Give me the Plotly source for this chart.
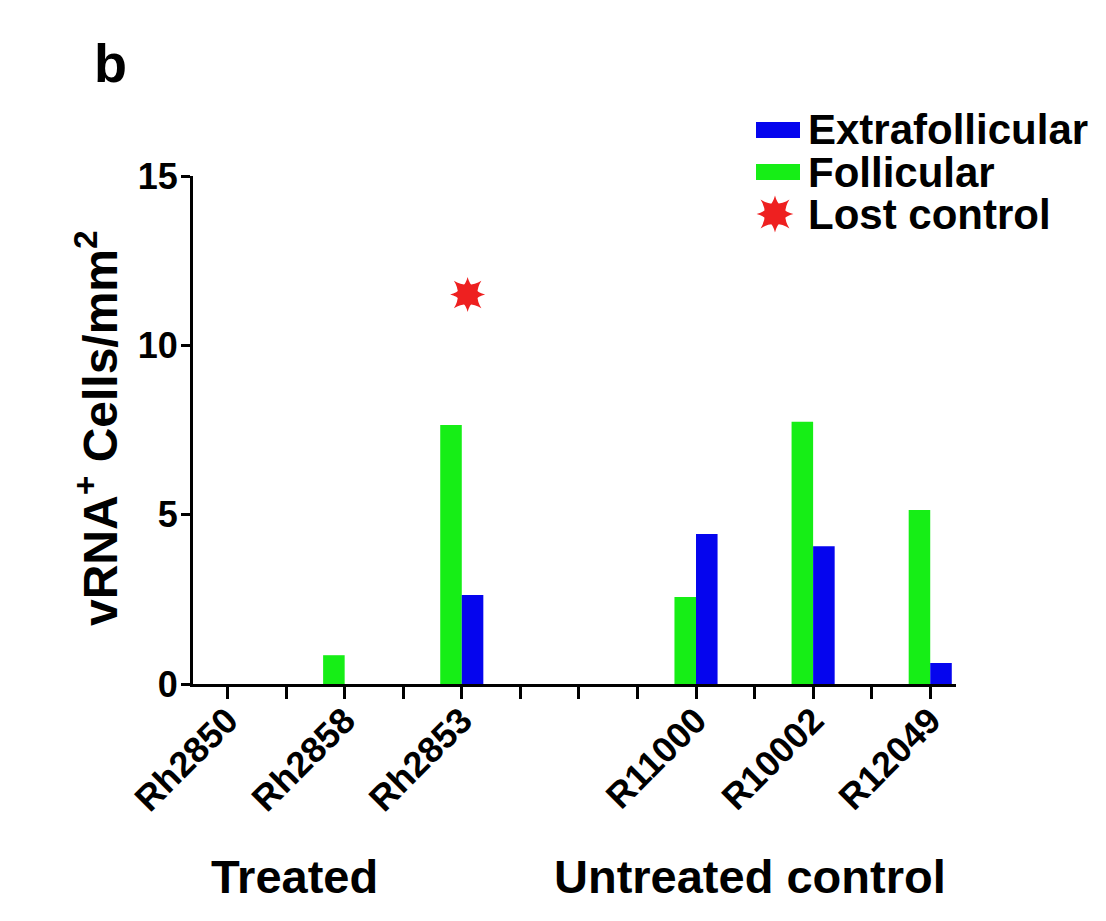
import plotly.graph_objects as go

# ---------------- data ----------------
treated = ["Rh2850", "Rh2858", "Rh2853"]
untreated = ["R11000", "R10002", "R12049"]
group_names = ["Treated", "Untreated control"]
follicular = [0.0, 0.85, 7.65, 2.57, 7.74, 5.14]
extrafollicular = [0.0, 0.0, 2.63, 4.43, 4.07, 0.62]
lost_control_animal = ["Rh2853"]
lost_control_value = [11.5]
y_ticks = [0, 5, 10, 15]

# ---------------- layout helpers ----------------
OFF = 8  # page body margin
W, H = 1106 - 2 * OFF, 921 - 2 * OFF
PL, PR, PT, PB = 193, 956, 176, 684  # plot area in reference pixels
FONT = "Liberation Sans, Arial, Helvetica, sans-serif"
BLUE = "#0505EE"
GREEN = "#16EE16"
RED = "#EE2020"

categories = treated + untreated
positions = [i for i in range(len(treated))] + [len(treated) + 1 + i for i in range(len(untreated))]
pos_of = dict(zip(categories, positions))
XMIN, XMAX = -0.295, 6.22
YMIN, YMAX = 0, 15
BW = 0.184


def px_to_x(px):
    return XMIN + (px - PL) / (PR - PL) * (XMAX - XMIN)


def py_to_y(py):
    return YMIN + (PB - py) / (PB - PT) * (YMAX - YMIN)


def px_to_paper(px):
    return (px - PL) / (PR - PL)


def py_to_paper(py):
    return (PB - py) / (PB - PT)


def star(fig, x, y, color, scale=1.0):
    for sym, s in [("circle", 17), ("star-square", 25), ("star-diamond", 25)]:
        fig.add_trace(go.Scatter(
            x=x, y=y, mode="markers", name="Lost control",
            marker=dict(symbol=sym, size=s * scale, color=color, line=dict(width=0)),
            showlegend=False, cliponaxis=False,
        ))


fig = go.Figure()

fig.add_trace(go.Bar(
    x=positions, y=follicular, name="Follicular",
    marker=dict(color=GREEN, line=dict(width=0)),
    width=BW, offset=-BW, showlegend=False,
))
fig.add_trace(go.Bar(
    x=positions, y=extrafollicular, name="Extrafollicular",
    marker=dict(color=BLUE, line=dict(width=0)),
    width=BW, offset=0, showlegend=False,
))

star_x = [pos_of[a] + 0.05 for a in lost_control_animal]
star(fig, star_x, lost_control_value, RED)

# ---------------- manual legend ----------------
legend_rows = [("Extrafollicular", BLUE, 130), ("Follicular", GREEN, 172), ("Lost control", RED, 214)]
shapes = []
annotations = []
for name, color, py in legend_rows:
    if name != "Lost control":
        shapes.append(dict(type="rect", xref="paper", yref="paper",
                           x0=px_to_paper(756), x1=px_to_paper(800),
                           y0=py_to_paper(py + 8), y1=py_to_paper(py - 8),
                           fillcolor=color, line=dict(width=0), layer="above"))
    else:
        star(fig, [px_to_x(775)], [py_to_y(py)], color, scale=1.05)
    annotations.append(dict(text=name, xref="paper", yref="paper",
                            x=px_to_paper(806), y=py_to_paper(py),
                            xanchor="left", yanchor="middle", showarrow=False,
                            font=dict(family=FONT, size=42, color="black", weight="bold")))

# group labels
for gname, cx in zip(group_names, [294, 750]):
    annotations.append(dict(text=gname, xref="paper", yref="paper",
                            x=px_to_paper(cx), y=py_to_paper(876),
                            xanchor="center", yanchor="middle", showarrow=False,
                            font=dict(family=FONT, size=47, color="black", weight="bold")))

# panel letter
annotations.append(dict(text="b", xref="paper", yref="paper",
                        x=px_to_paper(92), y=py_to_paper(63),
                        xanchor="left", yanchor="middle", showarrow=False,
                        font=dict(family=FONT, size=54, color="black", weight="bold")))

# y axis title
annotations.append(dict(text="vRNA<sup>+</sup> Cells/mm<sup>2</sup>", xref="paper", yref="paper",
                        x=px_to_paper(97), y=py_to_paper(428), textangle=-90,
                        xanchor="center", yanchor="middle", showarrow=False,
                        font=dict(family=FONT, size=48, color="black", weight="bold")))

# x ticks: labelled at each animal, unlabelled minor ticks at empty slots and midpoints
n_slots = int(max(positions)) * 2 + 1
minor_vals = [i * 0.5 for i in range(n_slots) if i * 0.5 not in positions]

fig.update_layout(
    width=W, height=H,
    margin=dict(l=PL - OFF, r=W - (PR - OFF), t=PT - OFF, b=H - (PB - OFF), pad=0),
    paper_bgcolor="white", plot_bgcolor="white",
    barmode="overlay",
    shapes=shapes, annotations=annotations,
    font=dict(family=FONT, color="black"),
    xaxis=dict(range=[XMIN, XMAX], showgrid=False, zeroline=False,
               showline=True, linecolor="black", linewidth=3,
               ticks="outside", ticklen=12, tickwidth=3, tickcolor="black",
               tickvals=positions, ticktext=categories, tickangle=-45,
               ticklabelstandoff=-14,
               tickfont=dict(family=FONT, size=36, color="black", weight="bold"),
               minor=dict(tickvals=minor_vals, ticks="outside", ticklen=12,
                          tickwidth=3, tickcolor="black", showgrid=False)),
    yaxis=dict(range=[YMIN, YMAX], showgrid=False, zeroline=False,
               showline=True, linecolor="black", linewidth=3,
               ticks="outside", ticklen=9, tickwidth=3, tickcolor="black",
               tickvals=y_ticks, ticktext=[str(v) for v in y_ticks],
               ticklabelstandoff=-4,
               tickfont=dict(family=FONT, size=36, color="black", weight="bold")),
)

fig.write_html("out.html")
